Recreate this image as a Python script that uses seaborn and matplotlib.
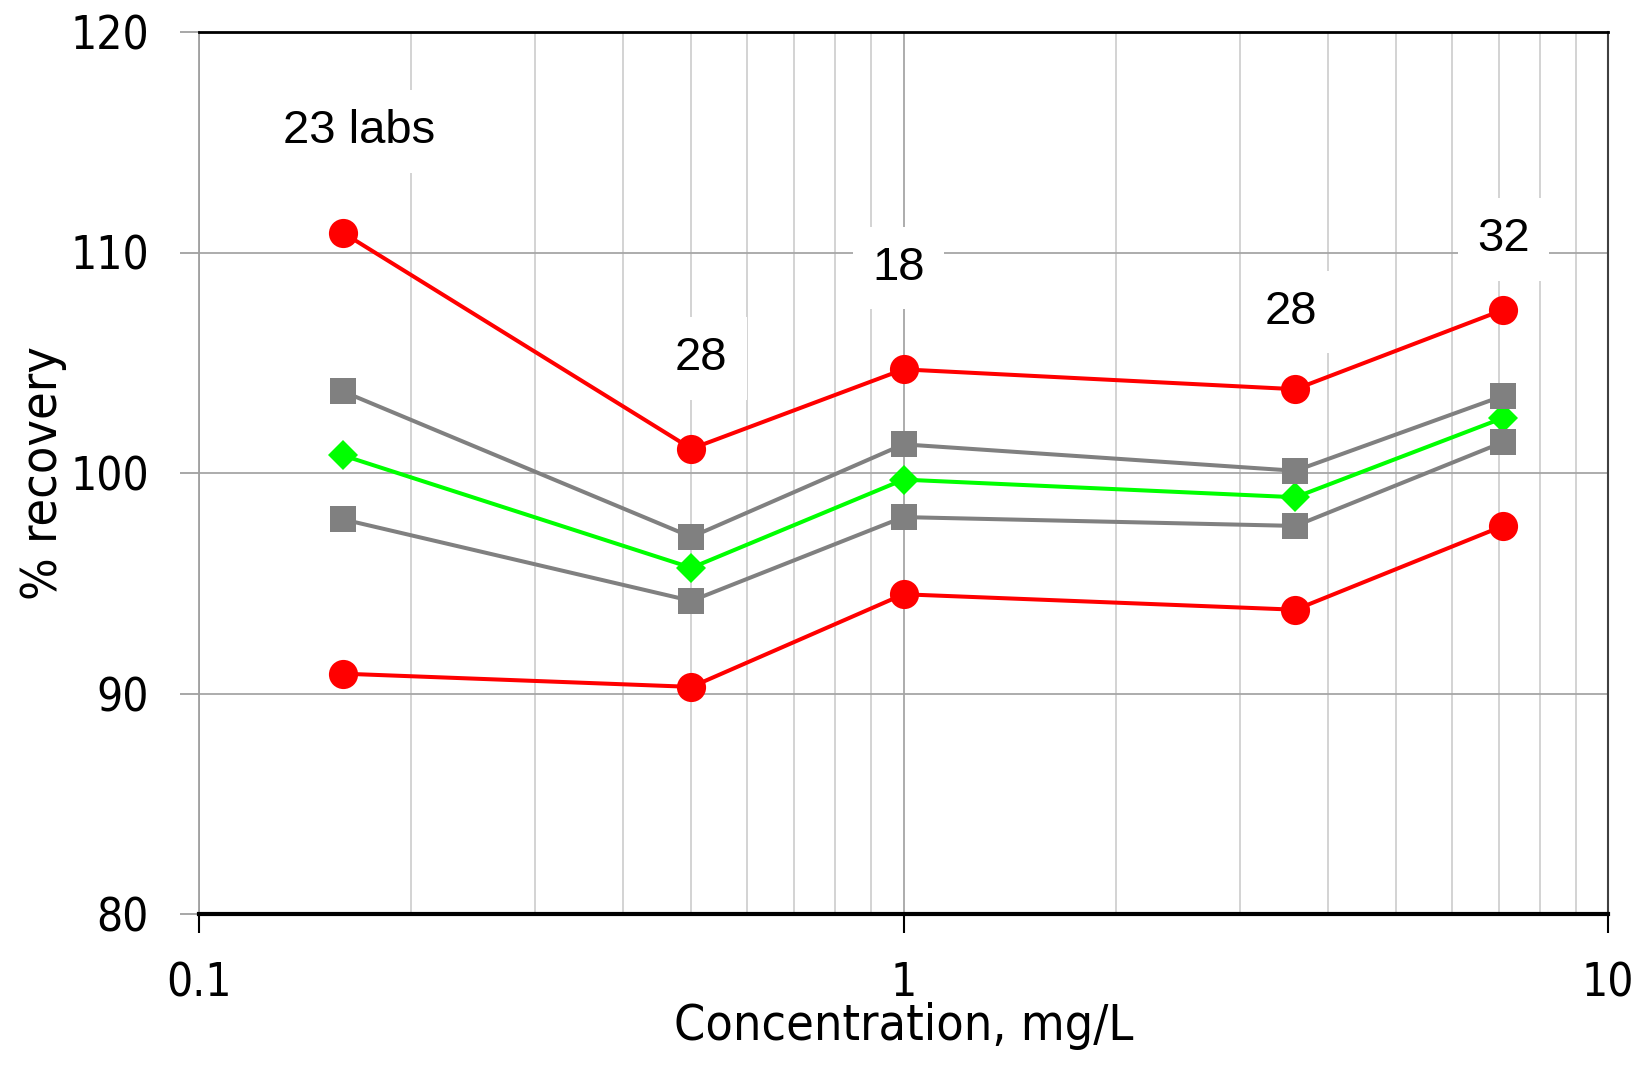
import numpy as np
import pandas as pd
import matplotlib
matplotlib.use("Agg")
import matplotlib.pyplot as plt
import seaborn as sns
from matplotlib.ticker import LogLocator, FixedLocator, NullFormatter

# ---- data ----
conc = [0.16, 0.5, 1.0, 3.6, 7.1]
upper_red = [110.9, 101.1, 104.7, 103.8, 107.4]
upper_gray = [103.7, 97.1, 101.3, 100.1, 103.5]
mean_green = [100.8, 95.7, 99.7, 98.9, 102.5]
lower_gray = [97.9, 94.2, 98.0, 97.6, 101.4]
lower_red = [90.9, 90.3, 94.5, 93.8, 97.6]

lab_labels = ["23 labs", "28", "18", "28", "32"]
lab_x = [0.169, 0.516, 0.983, 3.55, 7.10]
lab_y = [115.5, 105.2, 109.3, 107.3, 110.6]

yticks = [80, 90, 100, 110, 120]
xticks = [0.1, 1, 10]
xtick_labels = ["0.1", "1", "10"]

sns.set_theme(style="white")
arial = ["Liberation Sans", "DejaVu Sans"]
plt.rcParams["font.family"] = ["DejaVu Sans"]
plt.rcParams["font.stretch"] = "condensed"

fig = plt.figure(figsize=(16.42, 10.82), dpi=100)
ax = fig.add_axes([199 / 1642, 1 - 914 / 1082, (1608 - 199) / 1642, (914 - 32) / 1082])

ax.set_xscale("log")
ax.set_xlim(0.1, 10)
ax.set_ylim(80, 120)
ax.xaxis.set_major_locator(FixedLocator(xticks))
ax.xaxis.set_minor_locator(LogLocator(base=10, subs=np.arange(2, 10)))
ax.xaxis.set_minor_formatter(NullFormatter())
ax.set_yticks(yticks)
ax.grid(True, which="major", axis="both", color="#A6A6A6", linewidth=1.3, zorder=0)
ax.grid(True, which="minor", axis="x", color="#C8C8C8", linewidth=1.1, zorder=0)
ax.set_axisbelow(True)

series = [
    (mean_green, "#00FF00", "D", 15, 2),
    (upper_gray, "#808080", "s", 19, 3),
    (lower_gray, "#808080", "s", 19, 3),
    (upper_red, "#FF0000", "o", 21, 4),
    (lower_red, "#FF0000", "o", 21, 4),
]
for vals, col, mk, ms, z in series:
    df = pd.DataFrame({"conc": conc, "rec": vals})
    sns.lineplot(data=df, x="conc", y="rec", ax=ax, color=col, linewidth=2.9,
                 marker=mk, markersize=ms, markeredgewidth=0, markerfacecolor=col,
                 zorder=z + 2, legend=False)

for t, x, y in zip(lab_labels, lab_x, lab_y):
    ax.text(x, y, t, ha="center", va="center", fontsize=34, family=arial,
            stretch="normal", color="black",
            zorder=10, bbox=dict(facecolor="white", edgecolor="none", pad=14))

for s in ["top", "bottom"]:
    ax.spines[s].set_color("black")
ax.spines["top"].set_linewidth(2)
ax.spines["bottom"].set_linewidth(3)
ax.spines["left"].set_color("#A0A0A0")
ax.spines["left"].set_linewidth(1.3)
ax.spines["right"].set_color("#404040")
ax.spines["right"].set_linewidth(1.5)

ax.set_xticklabels(xtick_labels)
ax.tick_params(axis="x", which="major", direction="out", length=14, width=1.5,
               color="black", bottom=True, pad=20, labelsize=33, labelcolor="black")
ax.tick_params(axis="x", which="minor", bottom=False)
ax.tick_params(axis="y", which="major", direction="out", length=14, width=1.3,
               color="#A0A0A0", left=True, pad=22, labelsize=33, labelcolor="black")

ax.set_xlabel("Concentration, mg/L", fontsize=36, labelpad=-3, color="black")
ax.set_ylabel("% recovery", fontsize=36, labelpad=2, color="black")

fig.savefig("out.png", dpi=100)
